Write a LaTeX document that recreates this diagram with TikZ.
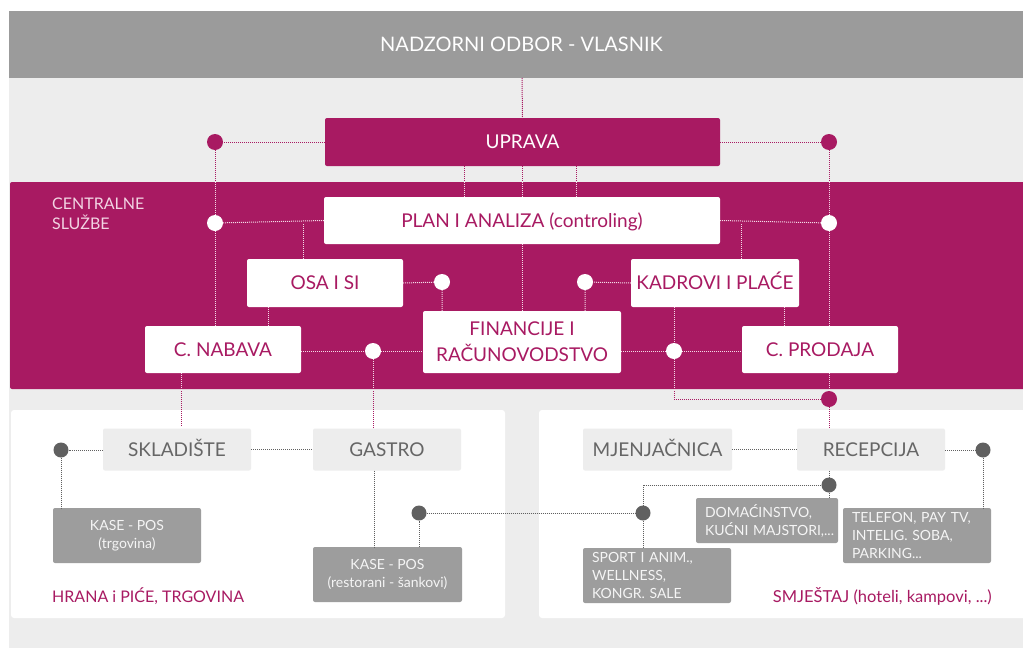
\documentclass[tikz,border=0pt]{standalone}
\usepackage{fontspec}
\setmainfont{Lato}
\usetikzlibrary{calc}
\definecolor{mag}{HTML}{A81A62}
\definecolor{topgray}{HTML}{9B9B9B}
\definecolor{bglight}{HTML}{EDEDED}
\definecolor{boxgray}{HTML}{9D9D9D}
\definecolor{dotgray}{HTML}{606060}
\definecolor{txtgray}{HTML}{666666}
\definecolor{pinktxt}{HTML}{F2D4E3}
\definecolor{linkpink}{HTML}{F4DCE8}
\newcommand\trunklines[1]{%
  \draw[#1] (topb) -- (upr.north);
  \draw[#1] (upr.west) -- (dUL) -- (dCL) -- (dCL |- nab.north);
  \draw[#1] (upr.east) -- (dUR) -- (dCR) -- (dCR |- prod.north);
  \draw[#1] ([xshift=-58pt]upr.south) -- ([xshift=-58pt]upr.south |- plan.north);
  \draw[#1] (upr.south -| plan.north) -- (plan.north);
  \draw[#1] ([xshift=54pt]upr.south) -- ([xshift=54pt]upr.south |- plan.north);
  \draw[#1] (plan.west) -- (dCL);
  \draw[#1] (plan.east) -- (dCR);
  \draw[#1] ([xshift=-22pt]osa.north) -- ++(0,-36);
  \draw[#1] ([xshift=26pt]kad.north) -- ++(0,-36);
  \draw[#1] (osa.east) -- (dO) -- (dO |- fin.north);
  \draw[#1] (kad.west) -- (dK) -- (dK |- fin.north);
  \draw[#1] ([xshift=-57pt]osa.south) -- ++(0,19);
  \draw[#1] ([xshift=69pt]kad.south) -- ++(0,19);
  \draw[#1] (plan.south) -- (fin.north);
  \draw[#1] (dN -| nab.east) -- (dN) -- (dN -| fin.west);
  \draw[#1] (dF -| fin.east) -- (dF) -- (dF -| prod.west);
  \draw[#1] (dF |- kad.south) -- (dF) |- (dB);
  \draw[#1] (dB |- prod.south) -- (dB) -- (dB |- rec.north);
  \draw[#1] ([xshift=-42pt]nab.south) -- ++(0,54);
  \draw[#1] (dN) -- (dN |- gas.north);
}
\begin{document}
\begin{tikzpicture}[x=1pt,y=-1pt,
  box/.style={rectangle, rounded corners=2pt, inner sep=0pt, align=center,
    font=\fontsize{19}{26}\selectfont},
  one/.style={text height=13.6pt, text depth=0pt},
  wbox/.style={box, fill=white, text=mag},
  mbox/.style={box, fill=mag, text=white},
  lbox/.style={box, one, fill=bglight, text=txtgray},
  gbox/.style={box, fill=boxgray, text=white!92!gray, font=\fontsize{14}{18}\selectfont},
  glbox/.style={gbox, align=left, inner xsep=9pt},
  dotbase/.style={circle, inner sep=0pt, minimum size=16pt},
  dotw/.style={dotbase, fill=white},
  dotm/.style={dotbase, fill=mag},
  dotg/.style={dotbase, fill=dotgray, minimum size=15pt},
  magline/.style={mag, line width=1pt, dash pattern=on 1pt off 1pt},
  whiteline/.style={linkpink, line width=1pt, dash pattern=on 1pt off 1pt},
  grayline/.style={dotgray, line width=1pt, dash pattern=on 1pt off 1pt},
  lbl/.style={inner sep=0pt, align=left}
]
\useasboundingbox (0,0) rectangle (1023,648);
\fill[white] (0,0) rectangle (1023,648);
\fill[bglight] (9,11) rectangle (1023,648);
\fill[topgray] (9,11) rectangle (1023,78);
\fill[mag, rounded corners=2pt] (10,182) rectangle (1030,389);
\fill[white, rounded corners=3pt] (11,410) rectangle (505,618);
\fill[white, rounded corners=3pt] (539,410) rectangle (1030,618);

\node[text=white, one, inner sep=0pt, font=\fontsize{20}{24}\selectfont] (top) at (521.5,45) {NADZORNI ODBOR - VLASNIK};
\coordinate (topb) at (522,78);

\node[lbl, text=pinktxt, anchor=north west, font=\fontsize{16}{20}\selectfont] (cs) at (52,198) {CENTRALNE\\SLUŽBE};

% boxes
\node[mbox, one, minimum width=395pt, minimum height=48pt] (upr) at (522.5,142) {UPRAVA};
\node[wbox, one, minimum width=396pt, minimum height=47pt] (plan) at (522,220.5) {PLAN I ANALIZA (controling)};
\node[wbox, one, minimum width=156pt, minimum height=48pt] (osa) at (325,283) {OSA I SI};
\node[wbox, one, minimum width=168pt, minimum height=48pt] (kad) at (715,283) {KADROVI I PLAĆE};
\node[wbox, one, minimum width=156pt, minimum height=47pt] (nab) at (223,349.5) {C. NABAVA};
\node[wbox, minimum width=198pt, minimum height=62pt] (fin) at (522,342) {FINANCIJE I\\RAČUNOVODSTVO};
\node[wbox, one, minimum width=156pt, minimum height=47pt] (prod) at (820,349.5) {C. PRODAJA};

\node[lbox, minimum width=148pt, minimum height=42pt] (sk) at (177,449.5) {SKLADIŠTE};
\node[lbox, minimum width=148pt, minimum height=42pt] (gas) at (387,449.5) {GASTRO};
\node[lbox, minimum width=149pt, minimum height=42pt] (mj) at (657.5,449.5) {MJENJAČNICA};
\node[lbox, minimum width=148pt, minimum height=42pt] (rec) at (871,449.5) {RECEPCIJA};

\node[gbox, minimum width=148pt, minimum height=55pt] (k1) at (127,535.5) {KASE - POS\\(trgovina)};
\node[gbox, minimum width=149pt, minimum height=55pt] (k2) at (387.5,574.5) {KASE - POS\\(restorani - šankovi)};
\node[glbox, text width=124pt, minimum height=45pt] (dom) at (767,520.5) {DOMAĆINSTVO,\\\mbox{KUĆNI MAJSTORI,...}};
\node[glbox, text width=130pt, minimum height=55pt] (tel) at (917,535.5) {TELEFON, PAY TV,\\INTELIG. SOBA,\\PARKING...};
\node[glbox, text width=130pt, minimum height=55pt] (sp) at (657,575.5) {SPORT I ANIM.,\\WELLNESS,\\KONGR. SALE};

\node[lbl, text=mag, anchor=west, font=\fontsize{16}{20}\selectfont] (hr) at (52,596) {HRANA i PIĆE, TRGOVINA};
\node[lbl, text=mag, anchor=east, font=\fontsize{16.5}{20}\selectfont] (sm) at (992,596) {SMJEŠTAJ (hoteli, kampovi, ...)};

% dots
\node[dotm] (dUL) at (215,142) {};
\node[dotm] (dUR) at (829,142) {};
\node[dotw] (dCL) at (215,223) {};
\node[dotw] (dCR) at (829,223) {};
\node[dotw] (dO) at (442,282) {};
\node[dotw] (dK) at (585,282) {};
\node[dotw] (dN) at (373,351) {};
\node[dotw] (dF) at (674,351) {};
\node[dotm] (dB) at (829,399) {};

\node[dotg] (dSk) at (61,450) {};
\node[dotg] (dG) at (419,513) {};
\node[dotg] (dS) at (643,513) {};
\node[dotg] (dR) at (829,485) {};
\node[dotg] (dT) at (983,450) {};

% trunk connectors
\trunklines{magline}
\begin{scope}
  \clip (10,182) rectangle (1023,389);
  \trunklines{whiteline}
\end{scope}

% gray connectors
\draw[grayline] (sk.west |- dSk) -- (dSk) -- (dSk |- k1.north);
\draw[grayline] (sk.east) -- (gas.west);
\draw[grayline] ([xshift=-13pt]gas.south) -- ++(0,78);
\draw[grayline] (dG |- k2.north) -- (dG) -- (dS) -- (dS |- sp.north);
\draw[grayline] (mj.east) -- (rec.west);
\draw[grayline] (rec.east |- dT) -- (dT) -- (dT |- tel.north);
\draw[grayline] (dR |- rec.south) -- (dR) -- (dR |- dom.north);
\draw[grayline] (dR) -| (dS);
\end{tikzpicture}
\end{document}
